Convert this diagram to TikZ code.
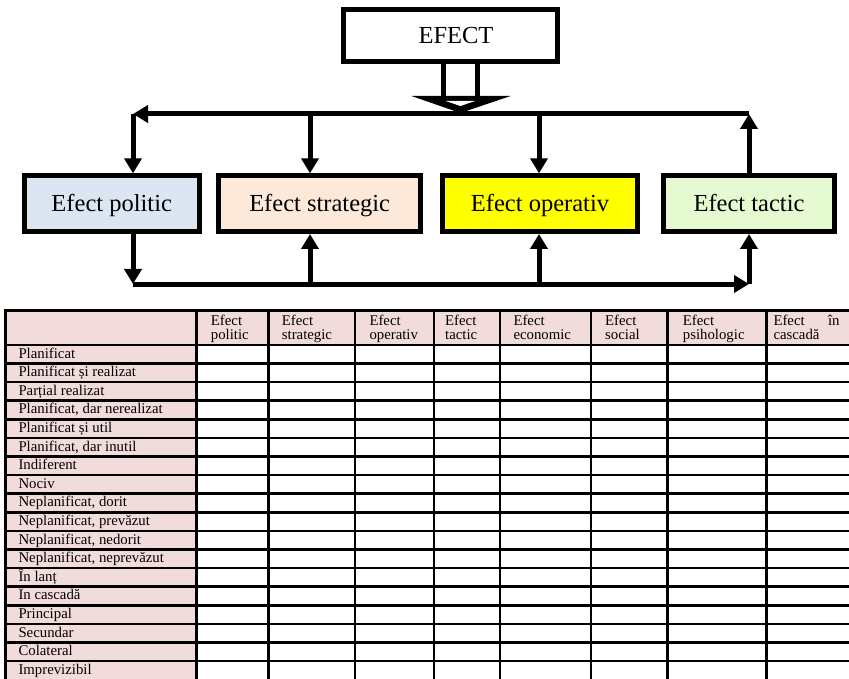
\documentclass[tikz,border=0pt]{standalone}
\usepackage{fontspec}
\setmainfont{Liberation Serif}
\usetikzlibrary{arrows.meta}
\definecolor{polc}{HTML}{DCE6F2}
\definecolor{strc}{HTML}{FDE9D9}
\definecolor{oprc}{HTML}{FFFF00}
\definecolor{tacc}{HTML}{E6FAD2}
\definecolor{pinkc}{HTML}{F2DCDB}
\newcommand\hdrtxt[2]{\parbox[t]{80pt}{#1\\#2}}
\begin{document}
\begin{tikzpicture}[x=1pt,y=-1pt,
  box/.style={draw=black,line width=5pt,inner sep=0pt,minimum height=55.7pt,
    text height=16.2pt,text depth=0pt,font=\fontsize{24.5}{28}\selectfont},
  conn/.style={line width=5pt,-{Triangle[length=15pt,width=17pt]}},
  gridline/.style={line width=2.6pt},
  cell/.style={inner sep=0pt,anchor=base west,font=\fontsize{14.8}{14.5}\selectfont}]
\useasboundingbox (0,0) rectangle (849,679);

% ---------- diagram ----------
\node[box,fill=white,minimum width=214pt,minimum height=52pt] (ef) at (450.5,35.5) {\hspace*{11pt}EFECT};
\node[box,fill=polc,minimum width=175pt] (pol) at (111.7,203.65) {Efect politic};
\node[box,fill=strc,minimum width=202.3pt] (str) at (319.65,203.65) {Efect strategic};
\node[box,fill=oprc,minimum width=195pt] (opr) at (540,203.65) {Efect operativ};
\node[box,fill=tacc,minimum width=171.6pt] (tac) at (749,203.65) {Efect tactic};

% hollow block arrow from EFECT
\draw[line width=5pt] (ef.south -| 443.2,0) -- (443.2,99);
\draw[line width=5pt] (ef.south -| 477.5,0) -- (477.5,99);
\fill[black] (411.5,96) -- (510.5,96) -- (460.4,113) -- cycle;
\fill[white] (445.7,101) -- (475,101) -- (460.4,106) -- cycle;

\coordinate (tl) at (133,114);
\coordinate (tr) at (749,114);
\coordinate (s1) at (310,114);
\coordinate (o1) at (539,114);
\coordinate (bl) at (133,284);
\coordinate (br) at (749,284);
\coordinate (s2) at (310,284);
\coordinate (o2) at (539,284);

\draw[conn] (tr) -- (tl);
\draw[conn] (tl) -- (tl |- pol.north);
\draw[conn] (s1) -- (s1 |- str.north);
\draw[conn] (o1) -- (o1 |- opr.north);
\draw[conn] (tr |- tac.north) -- (tr);

\draw[conn] (tl |- pol.south) -- (bl);
\draw[conn] (bl) -- (br);
\draw[conn] (s2) -- (s2 |- str.south);
\draw[conn] (o2) -- (o2 |- opr.south);
\draw[conn] (br) -- (br |- tac.south);

% ---------- table ----------
\fill[pinkc] (5.3,310.6) rectangle (849,345);
\fill[pinkc] (5.3,345) rectangle (196.7,680);
\draw[gridline] (4,310.6) -- (849,310.6);
\draw[gridline] (4,345) -- (849,345);
\foreach \k in {1,...,17} \draw[gridline] (4,{345+18.59*\k}) -- (849,{345+18.59*\k});
\foreach \xx in {5.3,196.7,268.3,355,434,500,591,667.3,766.7}
  \draw[gridline] (\xx,309.3) -- (\xx,681);

\node[cell] (h1) at (210.7,325) {\hdrtxt{Efect}{politic}};
\node[cell] (h2) at (281.7,325) {\hdrtxt{Efect}{strategic}};
\node[cell] (h3) at (369.3,325) {\hdrtxt{Efect}{operativ}};
\node[cell] (h4) at (445,325) {\hdrtxt{Efect}{tactic}};
\node[cell] (h5) at (513.3,325) {\hdrtxt{Efect}{economic}};
\node[cell] (h6) at (605,325) {\hdrtxt{Efect}{social}};
\node[cell] (h7) at (682.7,325) {\hdrtxt{Efect}{psihologic}};
\node[cell] (h8) at (773.3,325) {\parbox[t]{80pt}{\makebox[66pt]{Efect\hfill în}\\cascadă}};

\foreach \t [count=\i from 0] in {Planificat,Planificat și realizat,Parțial realizat,
  {Planificat, dar nerealizat},Planificat și util,{Planificat, dar inutil},Indiferent,Nociv,
  {Neplanificat, dorit},{Neplanificat, prevăzut},{Neplanificat, nedorit},
  {Neplanificat, neprevăzut},În lanț,În cascadă,Principal,Secundar,Colateral,Imprevizibil}
  \node[cell] (r\i) at (18.3,{345+18.59*\i+13.2}) {\t};
\end{tikzpicture}
\end{document}
